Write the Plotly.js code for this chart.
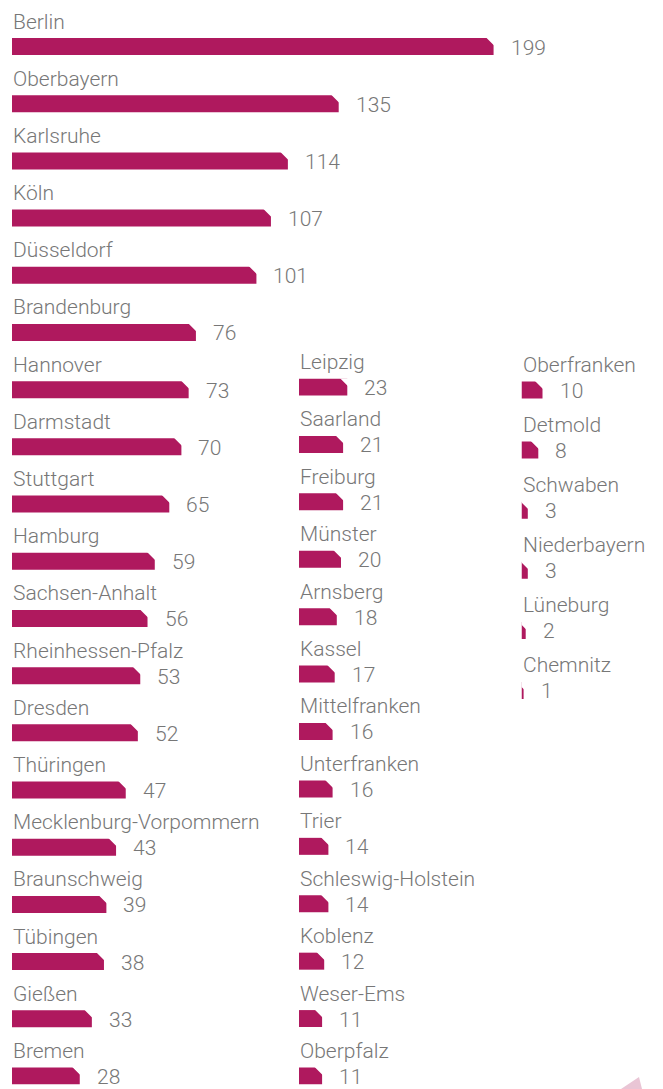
<!DOCTYPE html>
<html>
<head>
<meta charset="utf-8">
<script src="https://cdn.plot.ly/plotly-3.0.1.min.js"></script>
<style>
html, body { margin: 0; padding: 0; background: #ffffff; }
#chart { width: 663px; height: 1089px; }
</style>
</head>
<body>
<div id="chart"></div>
<script>
// ---- data ----
const col1Names = ["Berlin", "Oberbayern", "Karlsruhe", "Köln", "Düsseldorf", "Brandenburg", "Hannover",
  "Darmstadt", "Stuttgart", "Hamburg", "Sachsen-Anhalt", "Rheinhessen-Pfalz", "Dresden", "Thüringen",
  "Mecklenburg-Vorpommern", "Braunschweig", "Tübingen", "Gießen", "Bremen"];
const col1Values = [199, 135, 114, 107, 101, 76, 73, 70, 65, 59, 56, 53, 52, 47, 43, 39, 38, 33, 28];

const col2Names = ["Leipzig", "Saarland", "Freiburg", "Münster", "Arnsberg", "Kassel", "Mittelfranken",
  "Unterfranken", "Trier", "Schleswig-Holstein", "Koblenz", "Weser-Ems", "Oberpfalz"];
const col2Values = [23, 21, 21, 20, 18, 17, 16, 16, 14, 14, 12, 11, 11];

const col3Names = ["Oberfranken", "Detmold", "Schwaben", "Niederbayern", "Lüneburg", "Chemnitz"];
const col3Values = [10, 8, 3, 3, 2, 1];

// ---- styling / layout constants ----
const W = 663, H = 1089;
const BAR_COLOR = "#AF195E";
const TEXT_COLOR = "#777777";
const FONT_FAMILY = "Roboto, 'Open Sans', sans-serif";
const FONT_SIZE = 21;
const BAR_PX = 17, BEVEL_PX = 7, PAD = 0.15;

const columns = [
  { names: col1Names, values: col1Values, left: 12,    ppu: 2.42, top: 46.5, bottom: 1076 },
  { names: col2Names, values: col2Values, left: 299,   ppu: 2.1,  top: 387,  bottom: 1076 },
  { names: col3Names, values: col3Values, left: 521.5, ppu: 2.1,  top: 390,  bottom: 690.5 }
];

const traces = [];
const annotations = [];
const layout = {
  width: W, height: H,
  margin: { l: 0, r: 0, t: 0, b: 0, pad: 0 },
  paper_bgcolor: "#ffffff",
  plot_bgcolor: "rgba(0,0,0,0)",
  showlegend: false,
  font: { family: FONT_FAMILY, size: FONT_SIZE, color: TEXT_COLOR, weight: 300 },
  shapes: [{
    type: "path", xref: "paper", yref: "paper",
    path: "M " + (621 / W) + " " + (1 - 1089 / H) + " L " + (639 / W) + " " + (1 - 1077 / H) +
          " L " + (642 / W) + " " + (1 - 1089 / H) + " Z",
    fillcolor: "#E9C5D5", line: { width: 0 }, layer: "below"
  }]
};

columns.forEach((c, k) => {
  const n = c.names.length;
  const step = (c.bottom - c.top) / (n - 1);
  const sfx = k === 0 ? "" : String(k + 1);
  const xa = "x" + sfx, ya = "y" + sfx;
  const idx = c.names.map((_, i) => i);
  const w = BAR_PX / step;

  layout["xaxis" + sfx] = {
    domain: [c.left / W, 1], range: [0, (W - c.left) / c.ppu],
    visible: false, fixedrange: true, anchor: ya
  };
  layout["yaxis" + sfx] = {
    domain: [1 - (c.bottom + PAD * step) / H, 1 - (c.top - PAD * step) / H],
    range: [n - 1 + PAD, -PAD], visible: false, fixedrange: true, anchor: xa
  };

  traces.push({
    type: "bar", orientation: "h", x: c.values, y: idx, width: w,
    marker: { color: BAR_COLOR, line: { width: 0 } },
    xaxis: xa, yaxis: ya, hoverinfo: "skip"
  });

  // bevelled top-right corner, derived from each bar's value
  const dx = BEVEL_PX / c.ppu, dy = BEVEL_PX / step;
  const ex = 1.5 / c.ppu, ey = 1.5 / step;
  const bx = [], by = [];
  c.values.forEach((v, i) => {
    const top = i - w / 2;
    bx.push(v - dx - ex, v + ex, v + ex, null);
    by.push(top - ey, top - ey, top + dy + ey, null);
  });
  traces.push({
    type: "scatter", mode: "lines", x: bx, y: by, fill: "toself",
    fillcolor: "#ffffff", line: { width: 0, color: "#ffffff" },
    xaxis: xa, yaxis: ya, hoverinfo: "skip", connectgaps: false
  });

  c.names.forEach((name, i) => {
    annotations.push({
      xref: xa, yref: ya, x: 0, y: i, text: name, showarrow: false,
      xanchor: "left", yanchor: "middle", yshift: 25, borderpad: 0,
      font: { family: FONT_FAMILY, size: FONT_SIZE, color: TEXT_COLOR, weight: 300 }
    });
    annotations.push({
      xref: xa, yref: ya, x: c.values[i], y: i, text: String(c.values[i]), showarrow: false,
      xanchor: "left", yanchor: "middle", xshift: 16, yshift: -1, borderpad: 0,
      font: { family: FONT_FAMILY, size: FONT_SIZE, color: TEXT_COLOR, weight: 300 }
    });
  });
});

layout.annotations = annotations;

Plotly.newPlot("chart", traces, layout, { staticPlot: true, displayModeBar: false });
</script>
</body>
</html>
